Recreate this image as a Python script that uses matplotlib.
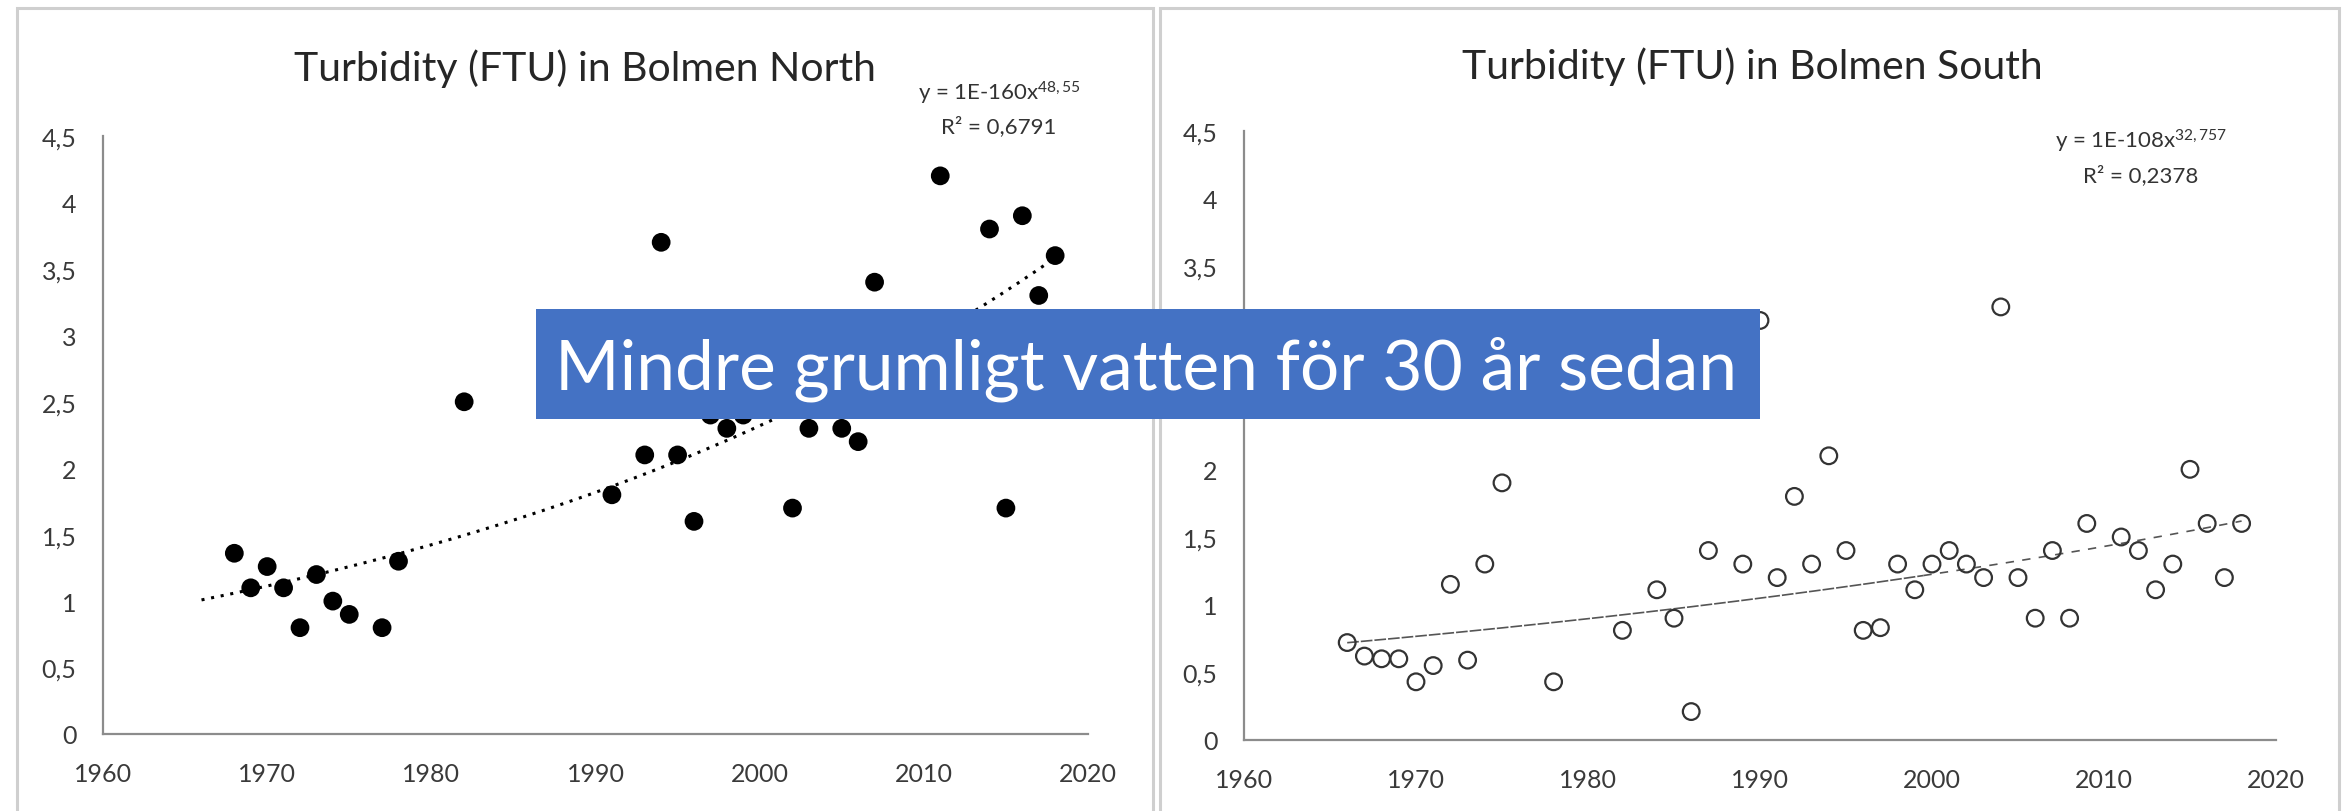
import numpy as np
import matplotlib
matplotlib.use("Agg")
import matplotlib.pyplot as plt
from matplotlib.patches import Rectangle

plt.rcParams['font.family'] = ['Lato', 'DejaVu Sans']
plt.rcParams['mathtext.fontset'] = 'custom'
plt.rcParams['mathtext.rm'] = 'Lato'
plt.rcParams['mathtext.it'] = 'Lato:italic'

# ---------------- data ----------------
north_years = [1968, 1969, 1970, 1971, 1972, 1973, 1974, 1975, 1977, 1978, 1982,
               1991, 1993, 1994, 1995, 1996, 1997, 1998, 1999, 2002, 2003, 2005,
               2006, 2007, 2011, 2014, 2015, 2016, 2017, 2018]
north_values = [1.36, 1.10, 1.26, 1.10, 0.80, 1.20, 1.00, 0.90, 0.80, 1.30, 2.50,
                1.80, 2.10, 3.70, 2.10, 1.60, 2.40, 2.30, 2.40, 1.70, 2.30, 2.30,
                2.20, 3.40, 4.20, 3.80, 1.70, 3.90, 3.30, 3.60]

south_years = [1966, 1967, 1968, 1969, 1970, 1971, 1972, 1973, 1974, 1975, 1978,
               1982, 1984, 1985, 1986, 1987, 1989, 1990, 1991, 1992, 1993, 1994,
               1995, 1996, 1997, 1998, 1999, 2000, 2001, 2002, 2003, 2004, 2005,
               2006, 2007, 2008, 2009, 2011, 2012, 2013, 2014, 2015, 2016, 2017, 2018]
south_values = [0.72, 0.62, 0.60, 0.60, 0.43, 0.55, 1.15, 0.59, 1.30, 1.90, 0.43,
                0.81, 1.11, 0.90, 0.21, 1.40, 1.30, 3.10, 1.20, 1.80, 1.30, 2.10,
                1.40, 0.81, 0.83, 1.30, 1.11, 1.30, 1.40, 1.30, 1.20, 3.20, 1.20,
                0.90, 1.40, 0.90, 1.60, 1.50, 1.40, 1.11, 1.30, 2.00, 1.60, 1.20, 1.60]

# power-law trend lines y = coef * x^exp
north_trend_coef = 1.26e-160
north_trend_exp = 48.55
north_trend_span = (1966, 2018)
south_trend_coef = 3.35e-103
south_trend_exp = 31.07
south_trend_span = (1966, 2018)
south_trend_break = 1999.5

x_ticks = [1960, 1970, 1980, 1990, 2000, 2010, 2020]
x_tick_labels = ['1960', '1970', '1980', '1990', '2000', '2010', '2020']
y_ticks = [0, 0.5, 1, 1.5, 2, 2.5, 3, 3.5, 4, 4.5]
y_tick_labels = ['0', '0,5', '1', '1,5', '2', '2,5', '3', '3,5', '4', '4,5']

title_north = 'Turbidity (FTU) in Bolmen North'
title_south = 'Turbidity (FTU) in Bolmen South'
eq_north = ['y = 1E-160x$^{\\mathrm{48,55}}$', 'R² = 0,6791']
eq_south = ['y = 1E-108x$^{\\mathrm{32,757}}$', 'R² = 0,2378']
banner_text = 'Mindre grumligt vatten för 30 år sedan'

# ---------------- figure ----------------
W, H = 2344, 812
fig = plt.figure(figsize=(W / 100, H / 100), dpi=100)
fig.patch.set_facecolor('white')


def fx(px):
    return px / W


def fy(py):
    return 1 - py / H


# panel frames
frame_col = '#cfcfcf'
fig.add_artist(Rectangle((fx(17), fy(830)), fx(1153 - 17), (830 - 9) / H,
                         transform=fig.transFigure, fill=False,
                         edgecolor=frame_col, linewidth=2.2, zorder=0))
fig.add_artist(Rectangle((fx(1160), fy(830)), fx(2339 - 1160), (830 - 9) / H,
                         transform=fig.transFigure, fill=False,
                         edgecolor=frame_col, linewidth=2.2, zorder=0))

axN = fig.add_axes([fx(103), fy(735), fx(1088 - 103), (735 - 137) / H])
axS = fig.add_axes([fx(1244), fy(741), fx(2276 - 1244), (741 - 132) / H])

for ax in (axN, axS):
    ax.set_xlim(1960, 2020)
    ax.set_ylim(0, 4.5)
    ax.set_xticks(x_ticks)
    ax.set_xticklabels(x_tick_labels)
    ax.set_yticks(y_ticks)
    ax.set_yticklabels(y_tick_labels)
    for s in ('top', 'right'):
        ax.spines[s].set_visible(False)
    for s in ('left', 'bottom'):
        ax.spines[s].set_color('#8c8c8c')
        ax.spines[s].set_linewidth(1.6)
    ax.tick_params(length=0, labelsize=18, colors='#3a3a3a')
    ax.tick_params(axis='y', pad=19)
    ax.tick_params(axis='x', pad=20)
    ax.patch.set_alpha(0)

# North
axN.scatter(north_years, north_values, s=13.5 ** 2, c='black', edgecolors='none',
            zorder=3, clip_on=False)
xs = np.linspace(north_trend_span[0], north_trend_span[1], 300)
ys = np.exp(np.log(north_trend_coef) + north_trend_exp * np.log(xs))
axN.plot(xs, ys, color='black', linewidth=2.2, linestyle=(0, (1, 2.2)),
         dash_capstyle='butt', zorder=2)

# South
axS.scatter(south_years, south_values, s=12 ** 2, facecolors='none',
            edgecolors='#333333', linewidths=1.6, zorder=3, clip_on=False)
xs1 = np.linspace(south_trend_span[0], south_trend_break, 200)
xs2 = np.linspace(south_trend_break, south_trend_span[1], 200)
for seg, ls in ((xs1, (0, (7, 1.2))), (xs2, (0, (5, 5)))):
    ys = np.exp(np.log(south_trend_coef) + south_trend_exp * np.log(seg))
    axS.plot(seg, ys, color='#555555', linewidth=1.2, linestyle=ls, zorder=2)

# titles
fig.text(fx(585), fy(81), title_north, ha='center', va='baseline',
         fontsize=29.5, color='#262626')
fig.text(fx(1752), fy(79), title_south, ha='center', va='baseline',
         fontsize=29.5, color='#262626')

# equations
fig.text(fx(999), fy(93), eq_north[0], ha='center', va='center', fontsize=16,
         color='#333333')
fig.text(fx(999), fy(127), eq_north[1], ha='center', va='center', fontsize=16,
         color='#333333')
fig.text(fx(2141), fy(141), eq_south[0], ha='center', va='center', fontsize=16,
         color='#333333')
fig.text(fx(2141), fy(176), eq_south[1], ha='center', va='center', fontsize=16,
         color='#333333')

# banner
fig.add_artist(Rectangle((fx(536), fy(420)), fx(1760 - 536), (420 - 310) / H,
                         transform=fig.transFigure, facecolor='#4472C4',
                         edgecolor='none', zorder=10))
fig.text(fx(1146), fy(390), banner_text, ha='center', va='baseline',
         fontsize=50, color='white', zorder=11)

fig.savefig('out.png', dpi=100, facecolor='white')
